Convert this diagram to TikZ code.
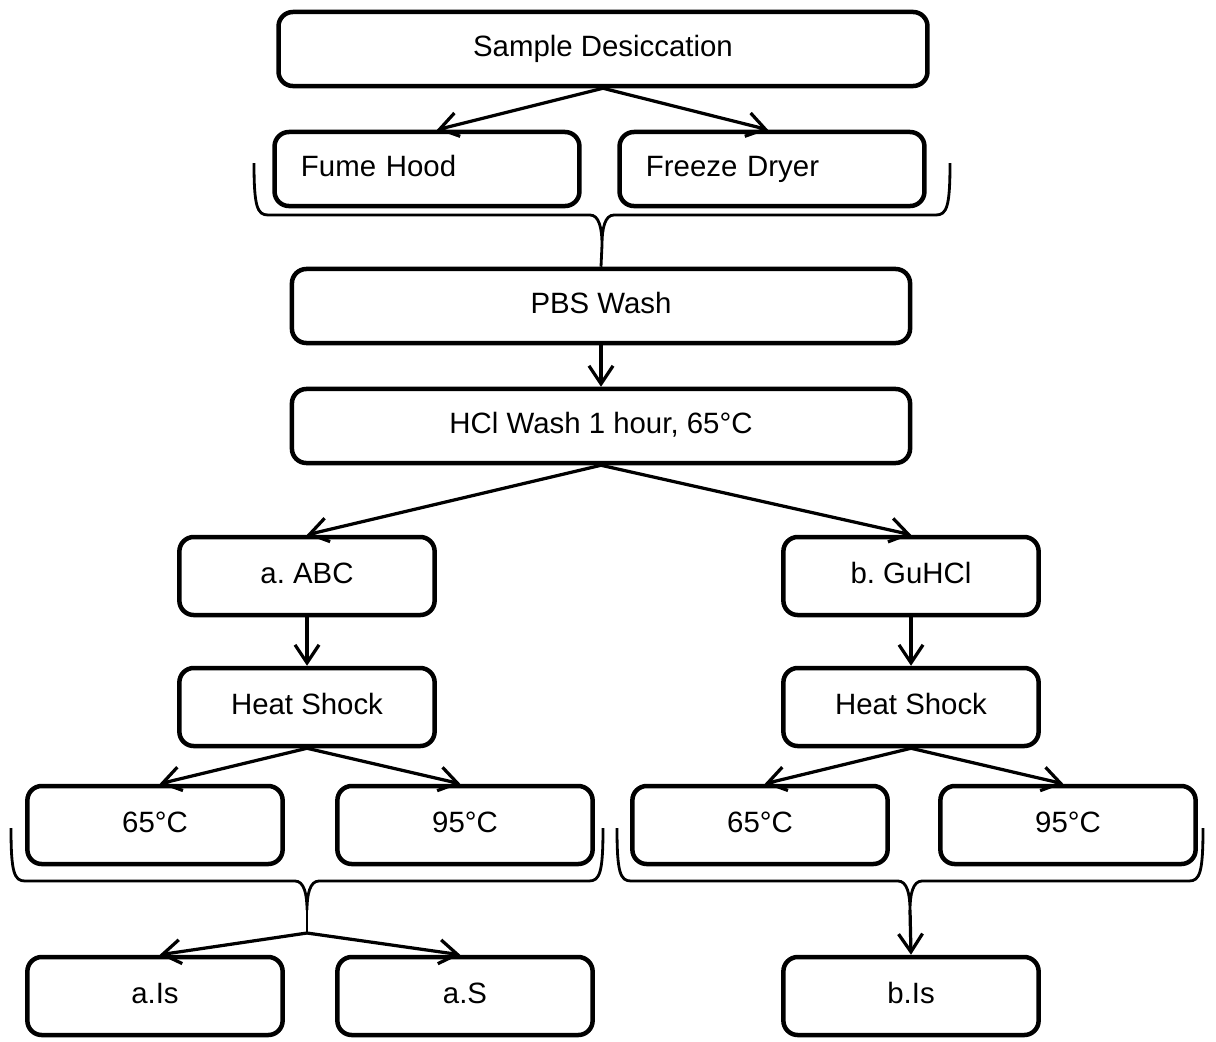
\documentclass[tikz,border=0pt]{standalone}
\usepackage{fontspec}
\setmainfont{Liberation Sans}
\usetikzlibrary{arrows.meta,positioning,calc}
\tikzset{
    box/.style ={draw, rounded corners=0.36cm, line width=3.2pt, align=center, inner sep=0pt, text height=15.2pt, text depth=4.4pt, font=\fontsize{20.9}{25}\selectfont\frenchspacing},
    wide/.style ={box, minimum width=16.22cm, minimum height=1.85cm},
    mid/.style ={box, minimum width=15.45cm, minimum height=1.85cm},
    half/.style ={box, minimum width=7.62cm, minimum height=1.85cm, text width=6.3cm, align=left},
    small/.style ={box, minimum width=6.38cm, minimum height=1.95cm},
    flow/.style ={-{Straight Barb[length=0.45cm,width=0.6cm]}, line width=2.3pt},
    brace/.style ={line width=2pt}
}
\begin{document}
\begin{tikzpicture}[x=0.025cm, y=-0.025cm]
        \useasboundingbox (0,0) rectangle (1216,1041);
        % Desiccation and drying
        \node[wide] (desiccation) at (603,49) {Sample Desiccation};
        \node[half] (fumehood) at (427,169) {Fume Hood};
        \node[half] (freezedryer) at (772,169) {Freeze Dryer};
        \draw[flow] (desiccation.south) -- ([xshift=0.25cm]fumehood.north);
        \draw[flow] (desiccation.south) -- ([xshift=-0.1cm]freezedryer.north);
        % Washes
        \node[mid] (pbswash) at (601,306) {PBS Wash};
        \node[mid] (hclwash) at (601,426) {HCl Wash 1 hour, 65°C};
        \draw[brace] (254,163) .. controls (254,206) and (257,215) .. (268,215) -- (590,215)
            .. controls (599,215) and (602,228) .. (602,245) coordinate (topTip)
            .. controls (602,228) and (605,215) .. (614,215) -- (936,215)
            .. controls (947,215) and (950,206) .. (950,163);
        \draw[brace] (topTip) -- (pbswash.north);
        \draw[flow] (pbswash.south) -- (hclwash.north);
        % Buffers
        \node[small] (abc) at (307,576) {a. ABC};
        \node[small] (guhcl) at (911,576) {b. GuHCl};
        \draw[flow] (hclwash.south) -- (abc.north);
        \draw[flow] (hclwash.south) -- (guhcl.north);
        \node[small] (heatA) at (307,707) {Heat Shock};
        \node[small] (heatB) at (911,707) {Heat Shock};
        \draw[flow] (abc.south) -- (heatA.north);
        \draw[flow] (guhcl.south) -- (heatB.north);
        % Temperatures
        \node[small] (lowA) at (155,825) {65°C};
        \node[small] (highA) at (465,825) {95°C};
        \node[small] (lowB) at (760,825) {65°C};
        \node[small] (highB) at (1068,825) {95°C};
        \draw[flow] (heatA.south) -- ([xshift=0.12cm]lowA.north);
        \draw[flow] (heatA.south) -- ([xshift=-0.12cm]highA.north);
        \draw[flow] (heatB.south) -- ([xshift=0.12cm]lowB.north);
        \draw[flow] (heatB.south) -- ([xshift=-0.12cm]highB.north);
        % Collect and split
        \node[small] (isA) at (155,996) {a.Is};
        \node[small] (sA) at (465,996) {a.S};
        \node[small] (isB) at (911,996) {b.Is};
        \draw[brace] (11,828) .. controls (11,872) and (14,881) .. (25,881) -- (295,881)
            .. controls (304,881) and (307,894) .. (307,910) coordinate (leftTip)
            .. controls (307,894) and (310,881) .. (319,881) -- (589,881)
            .. controls (600,881) and (603,872) .. (603,828);
        \draw[brace] (617,828) .. controls (617,872) and (620,881) .. (631,881) -- (898,881)
            .. controls (907,881) and (910,894) .. (910,910) coordinate (rightTip)
            .. controls (910,894) and (913,881) .. (922,881) -- (1189,881)
            .. controls (1200,881) and (1203,872) .. (1203,828);
        \coordinate (leftFork) at (307,933);
        \draw[brace] (leftTip) -- (leftFork);
        \draw[flow] (leftFork) -- ([xshift=0.12cm]isA.north);
        \draw[flow] (leftFork) -- ([xshift=-0.12cm]sA.north);
        \draw[flow] (rightTip) -- (isB.north);
\end{tikzpicture}
\end{document}
